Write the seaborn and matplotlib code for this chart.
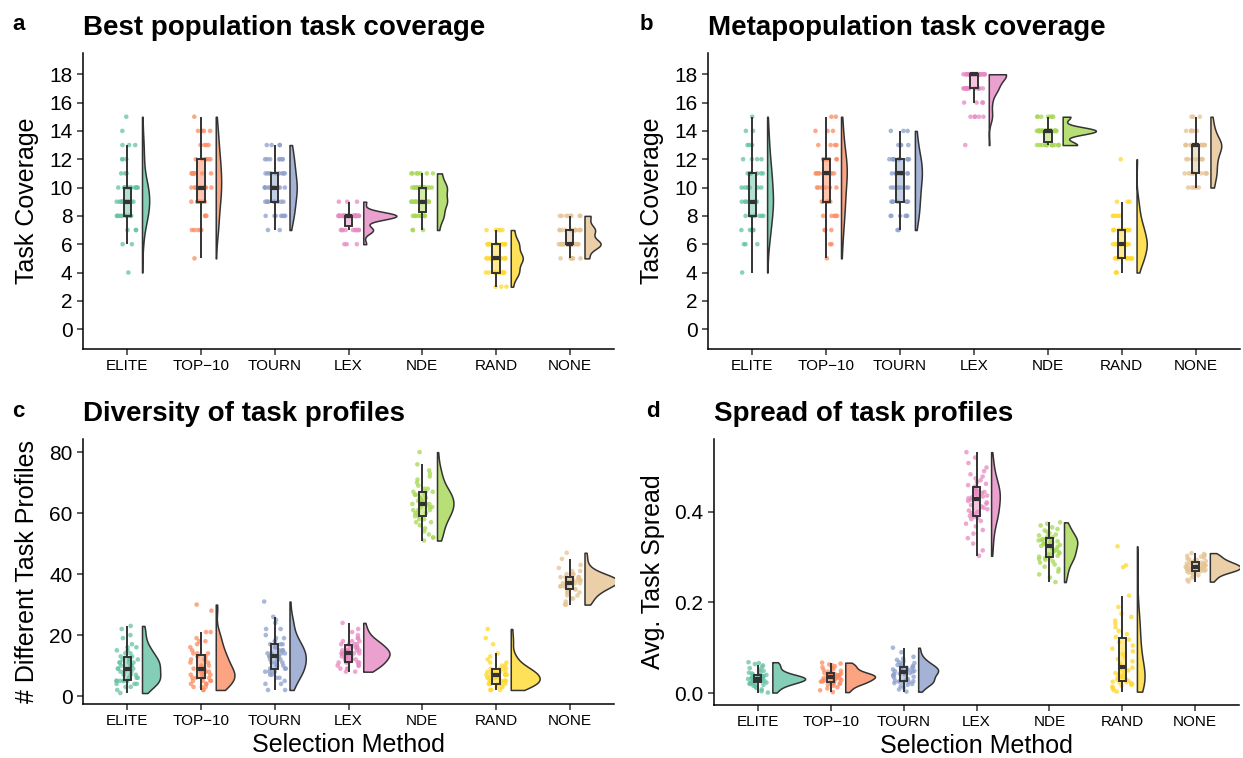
import numpy as np
import pandas as pd
import seaborn as sns
import matplotlib.pyplot as plt
from matplotlib.colors import to_rgba
from matplotlib.transforms import Affine2D

# -----------------------------------------------------------------------------
# Data (integer panels stored as value -> count)
# -----------------------------------------------------------------------------

METHODS = ["ELITE", "TOP-10", "TOURN", "LEX", "NDE", "RAND", "NONE"]
TICK_LABELS = ["ELITE", "TOP\u221210", "TOURN", "LEX", "NDE", "RAND", "NONE"]
COLORS = ["#66c2a5", "#fc8d62", "#8da0cb", "#e78ac3", "#a6d854", "#ffd92f", "#e5c494"]

best_coverage = {
    "ELITE": {4: 1, 6: 2, 7: 3, 8: 10, 9: 12, 10: 11, 11: 3, 12: 3, 13: 3, 14: 1, 15: 1},
    "TOP-10": {5: 1, 7: 5, 8: 4, 9: 7, 10: 9, 11: 8, 12: 7, 13: 4, 14: 4, 15: 1},
    "TOURN": {7: 2, 8: 7, 9: 9, 10: 12, 11: 9, 12: 7, 13: 4},
    "LEX": {6: 3, 7: 10, 8: 34, 9: 3},
    "NDE": {7: 3, 8: 10, 9: 15, 10: 15, 11: 7},
    "RAND": {3: 3, 4: 12, 5: 18, 6: 12, 7: 5},
    "NONE": {5: 6, 6: 22, 7: 14, 8: 8},
}

meta_coverage = {
    "ELITE": {4: 1, 6: 3, 7: 5, 8: 7, 9: 10, 10: 7, 11: 7, 12: 4, 13: 3, 14: 2, 15: 1},
    "TOP-10": {5: 1, 6: 2, 7: 3, 8: 5, 9: 6, 10: 6, 11: 10, 12: 8, 13: 4, 14: 3, 15: 2},
    "TOURN": {7: 2, 8: 6, 9: 7, 10: 8, 11: 11, 12: 9, 13: 4, 14: 3},
    "LEX": {13: 1, 15: 5, 16: 4, 17: 13, 18: 27},
    "NDE": {13: 13, 14: 30, 15: 7},
    "RAND": {4: 3, 5: 11, 6: 16, 7: 11, 8: 5, 9: 3, 12: 1},
    "NONE": {10: 5, 11: 9, 12: 9, 13: 18, 14: 6, 15: 3},
}

profile_diversity = {
    "ELITE": {1: 1, 2: 1, 3: 2, 4: 3, 5: 6, 6: 3, 7: 3, 8: 3, 9: 4, 10: 3, 11: 4,
              12: 4, 13: 2, 14: 2, 15: 2, 16: 2, 17: 1, 19: 1, 20: 1, 22: 1, 23: 1},
    "TOP-10": {2: 2, 3: 3, 4: 3, 5: 4, 6: 5, 7: 4, 8: 4, 9: 4, 10: 2, 11: 2, 12: 3,
               13: 2, 14: 3, 15: 1, 16: 1, 17: 1, 18: 2, 19: 1, 21: 2, 28: 1, 30: 1},
    "TOURN": {2: 2, 4: 2, 5: 1, 6: 2, 7: 2, 8: 4, 9: 3, 10: 3, 11: 3, 12: 3, 13: 4, 14: 4,
              15: 3, 16: 2, 17: 3, 18: 2, 19: 2, 20: 1, 22: 2, 24: 1, 25: 1, 26: 1, 31: 1},
    "LEX": {8: 2, 9: 3, 10: 3, 11: 5, 12: 4, 13: 5, 14: 6, 15: 5, 16: 4, 17: 4,
            18: 3, 19: 2, 20: 1, 21: 1, 22: 1, 24: 1},
    "NDE": {51: 1, 52: 2, 53: 1, 54: 1, 55: 1, 56: 1, 57: 2, 58: 2, 59: 2, 60: 3, 61: 3,
            62: 3, 63: 4, 64: 3, 65: 3, 66: 3, 67: 3, 68: 2, 69: 1, 70: 1, 71: 1, 72: 1,
            73: 1, 74: 1, 76: 1, 80: 1},
    "RAND": {2: 3, 3: 3, 4: 7, 5: 6, 6: 5, 7: 6, 8: 5, 9: 4, 10: 2, 11: 2, 12: 1,
             13: 1, 14: 1, 17: 1, 19: 1, 22: 1},
    "NONE": {30: 2, 31: 1, 32: 2, 33: 2, 34: 3, 35: 4, 36: 5, 37: 7, 38: 8, 39: 6,
             40: 4, 41: 2, 42: 1, 43: 1, 45: 1, 47: 1},
}

spread_elite = [0.001, 0.004, 0.008, 0.011, 0.014, 0.016, 0.018, 0.019, 0.020, 0.021,
                0.022, 0.023, 0.024, 0.025, 0.026, 0.026, 0.027, 0.028, 0.028, 0.029,
                0.030, 0.030, 0.031, 0.031, 0.032, 0.032, 0.033, 0.033, 0.034, 0.034,
                0.035, 0.035, 0.036, 0.037, 0.038, 0.039, 0.040, 0.040, 0.041, 0.043,
                0.045, 0.047, 0.049, 0.052, 0.055, 0.058, 0.061, 0.064, 0.066, 0.068]
spread_top10 = [0.002, 0.006, 0.010, 0.013, 0.016, 0.018, 0.020, 0.021, 0.022, 0.023,
                0.024, 0.024, 0.025, 0.026, 0.027, 0.028, 0.029, 0.030, 0.031, 0.032,
                0.033, 0.034, 0.034, 0.035, 0.036, 0.036, 0.037, 0.037, 0.038, 0.038,
                0.039, 0.039, 0.040, 0.041, 0.042, 0.043, 0.043, 0.044, 0.045, 0.047,
                0.049, 0.051, 0.053, 0.055, 0.057, 0.059, 0.061, 0.063, 0.065, 0.067]
spread_tourn = [0.003, 0.008, 0.012, 0.015, 0.018, 0.020, 0.022, 0.023, 0.024, 0.025,
                0.026, 0.026, 0.027, 0.028, 0.030, 0.032, 0.034, 0.036, 0.038, 0.040,
                0.041, 0.042, 0.043, 0.044, 0.045, 0.046, 0.047, 0.048, 0.049, 0.050,
                0.051, 0.052, 0.053, 0.054, 0.055, 0.056, 0.057, 0.058, 0.059, 0.060,
                0.062, 0.064, 0.066, 0.068, 0.070, 0.073, 0.076, 0.080, 0.090, 0.100]
spread_lex = [0.303, 0.315, 0.330, 0.342, 0.352, 0.360, 0.368, 0.374, 0.380, 0.384,
              0.387, 0.389, 0.391, 0.394, 0.397, 0.400, 0.403, 0.406, 0.409, 0.412,
              0.415, 0.418, 0.421, 0.424, 0.427, 0.430, 0.432, 0.434, 0.436, 0.438,
              0.440, 0.442, 0.444, 0.446, 0.448, 0.451, 0.454, 0.456, 0.459, 0.462,
              0.466, 0.470, 0.474, 0.478, 0.483, 0.490, 0.498, 0.508, 0.520, 0.532]
spread_nde = [0.245, 0.255, 0.262, 0.268, 0.274, 0.279, 0.284, 0.288, 0.291, 0.294,
              0.296, 0.298, 0.299, 0.301, 0.303, 0.305, 0.307, 0.309, 0.311, 0.313,
              0.315, 0.317, 0.319, 0.321, 0.323, 0.325, 0.327, 0.329, 0.331, 0.332,
              0.333, 0.334, 0.335, 0.337, 0.338, 0.340, 0.341, 0.342, 0.344, 0.346,
              0.348, 0.350, 0.353, 0.356, 0.359, 0.362, 0.366, 0.370, 0.374, 0.377]
spread_rand = [0.003, 0.006, 0.009, 0.012, 0.014, 0.016, 0.018, 0.020, 0.022, 0.023,
               0.024, 0.025, 0.027, 0.029, 0.031, 0.033, 0.035, 0.037, 0.039, 0.041,
               0.044, 0.047, 0.050, 0.053, 0.056, 0.058, 0.061, 0.065, 0.070, 0.075,
               0.080, 0.086, 0.092, 0.098, 0.105, 0.112, 0.118, 0.124, 0.130, 0.137,
               0.145, 0.153, 0.160, 0.168, 0.175, 0.190, 0.215, 0.278, 0.282, 0.324]
spread_none = [0.246, 0.250, 0.254, 0.257, 0.260, 0.262, 0.264, 0.266, 0.267, 0.268,
               0.269, 0.269, 0.270, 0.271, 0.272, 0.272, 0.273, 0.274, 0.275, 0.275,
               0.276, 0.277, 0.277, 0.278, 0.279, 0.279, 0.280, 0.281, 0.281, 0.282,
               0.283, 0.283, 0.284, 0.285, 0.286, 0.287, 0.288, 0.289, 0.290, 0.291,
               0.292, 0.294, 0.295, 0.297, 0.299, 0.301, 0.303, 0.305, 0.307, 0.309]

task_spread = dict(zip(METHODS, [spread_elite, spread_top10, spread_tourn, spread_lex,
                                 spread_nde, spread_rand, spread_none]))

EDGE = "#333333"
W, H = 1243, 758

# -----------------------------------------------------------------------------
# Helpers
# -----------------------------------------------------------------------------

def counts_to_frame(counts):
    rows = []
    for m in METHODS:
        vals = np.repeat(list(counts[m].keys()), list(counts[m].values()))
        rows.append(pd.DataFrame({"method": m, "value": vals.astype(float)}))
    return pd.concat(rows, ignore_index=True)


def lists_to_frame(lists):
    rows = [pd.DataFrame({"method": m, "value": lists[m]}) for m in METHODS]
    return pd.concat(rows, ignore_index=True)


def raincloud(ax, df, title, ylabel, yticks, ylim, yfmt="{:g}", xlabel=""):
    df = df.assign(side="right")

    # half violins; afterwards moved so the flat side sits 0.2 right of the points
    n0 = len(ax.collections)
    sns.violinplot(data=df, x="method", y="value", hue="side", hue_order=["left", "right"],
                   order=METHODS, split=True, inner=None, cut=0, width=0.9,
                   bw_adjust=0.9, density_norm="area", linewidth=1.1, linecolor=EDGE,
                   legend=False, ax=ax)
    violins = ax.collections[n0:]
    extents = []
    for coll in violins:
        xy = np.concatenate([p.vertices for p in coll.get_paths()])
        extents.append((xy[:, 0].min(), xy[:, 0].max()))
    k = 0.45 / max(hi - lo for lo, hi in extents)
    for i, (coll, color, (lo, hi)) in enumerate(zip(violins, COLORS, extents)):
        coll.set_facecolor(to_rgba(color, 0.8))
        coll.set_edgecolor(EDGE)
        coll.set_linewidth(1.1)
        coll.set_transform(Affine2D().translate(-lo, 0).scale(k, 1)
                           .translate(i + 0.2, 0) + ax.transData)

    # raw points
    sns.stripplot(data=df, x="method", y="value", hue="method", order=METHODS,
                  hue_order=METHODS, palette=COLORS, jitter=0.15, size=3.3,
                  alpha=0.75, linewidth=0, legend=False, ax=ax)

    # narrow boxes on top
    p0, l0 = len(ax.patches), len(ax.lines)
    sns.boxplot(data=df, x="method", y="value", hue="method", order=METHODS,
                hue_order=METHODS, palette=COLORS, width=0.1, showfliers=False,
                showcaps=False, linecolor=EDGE, linewidth=1.4, saturation=1,
                medianprops=dict(linewidth=3), legend=False, ax=ax)
    for patch in ax.patches[p0:]:
        patch.set_facecolor(to_rgba(patch.get_facecolor(), 0.5))
        patch.set_edgecolor(EDGE)
        patch.set_zorder(4)
    for line in ax.lines[l0:]:
        line.set_zorder(5)

    ax.set_xlim(-0.6, 6.6)
    ax.set_ylim(*ylim)
    ax.set_yticks(yticks)
    ax.set_yticklabels([yfmt.format(t) for t in yticks], fontsize=15)
    ax.set_xticks(range(len(METHODS)))
    ax.set_xticklabels(TICK_LABELS, fontsize=11)
    ax.set_ylabel(ylabel, fontsize=18, labelpad=7)
    ax.set_xlabel(xlabel, fontsize=18, labelpad=3)
    ax.set_title(title, loc="left", fontsize=20, fontweight="bold", pad=13)
    sns.despine(ax=ax)
    for side in ["left", "bottom"]:
        ax.spines[side].set_linewidth(1.1)
        ax.spines[side].set_color("black")
    ax.tick_params(axis="both", length=4, width=1.1, color=EDGE, labelcolor="black")


# -----------------------------------------------------------------------------
# Figure
# -----------------------------------------------------------------------------

def main():
    np.random.seed(3)
    sns.set_style("ticks")
    plt.rcParams["font.family"] = ["Liberation Sans", "DejaVu Sans"]
    plt.rcParams["text.color"] = "black"
    plt.rcParams["axes.labelcolor"] = "black"

    fig = plt.figure(figsize=(W / 100, H / 100), dpi=100)

    def box(l, r, t, b):
        return [l / W, 1 - b / H, (r - l) / W, (b - t) / H]

    ax_a = fig.add_axes(box(83, 614, 53, 349))
    ax_b = fig.add_axes(box(708, 1240, 53, 349))
    ax_c = fig.add_axes(box(83, 614, 439, 704))
    ax_d = fig.add_axes(box(714, 1239, 439, 705))

    cov_ticks = list(range(0, 19, 2))
    raincloud(ax_a, counts_to_frame(best_coverage), "Best population task coverage",
              "Task Coverage", cov_ticks, (-1.4, 19.5))
    raincloud(ax_b, counts_to_frame(meta_coverage), "Metapopulation task coverage",
              "Task Coverage", cov_ticks, (-1.4, 19.5))
    raincloud(ax_c, counts_to_frame(profile_diversity), "Diversity of task profiles",
              "# Different Task Profiles", [0, 20, 40, 60, 80], (-2.6, 84.3),
              xlabel="Selection Method")
    raincloud(ax_d, lists_to_frame(task_spread), "Spread of task profiles",
              "Avg. Task Spread", [0.0, 0.2, 0.4], (-0.0265, 0.561), yfmt="{:.1f}",
              xlabel="Selection Method")

    # panel tags
    for letter, x, y in [("a", 12, 30), ("b", 640, 30), ("c", 12, 417), ("d", 646, 417)]:
        fig.text(x / W, 1 - y / H, letter, fontsize=16, fontweight="bold",
                 ha="left", va="baseline")

    fig.savefig("out.png", dpi=100)
    plt.close(fig)


if __name__ == "__main__":
    main()
